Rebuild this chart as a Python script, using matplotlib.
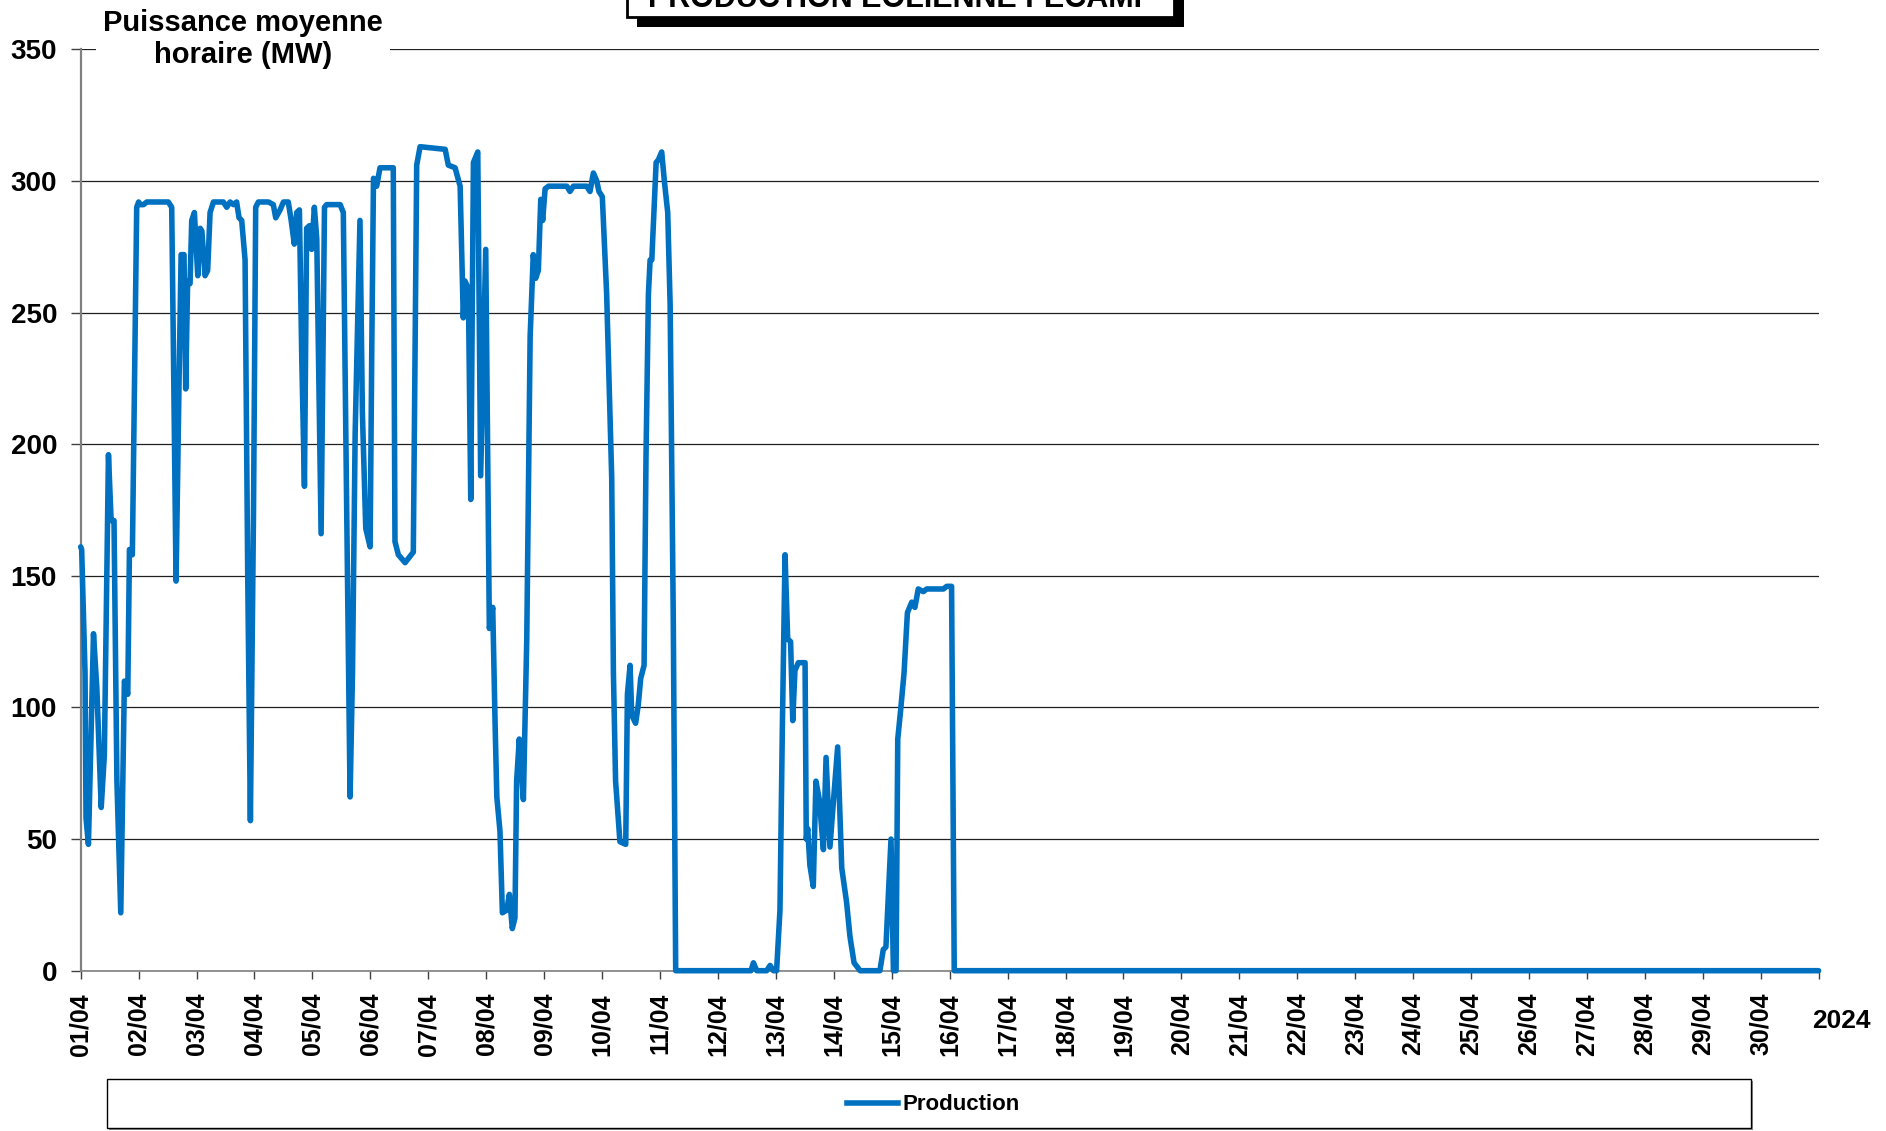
import numpy as np
import matplotlib
matplotlib.use('Agg')
import matplotlib.pyplot as plt
from matplotlib.patches import Rectangle
from matplotlib.lines import Line2D

plt.rcParams['font.family'] = ['Liberation Sans', 'DejaVu Sans']
plt.rcParams['font.weight'] = 'bold'

# hourly production, April 2024 (hours since 01/04 00:00, MW)
hours = [0, 0.4, 1.8, 2.2, 3.2, 5.3, 6.7, 8.5, 9.8, 11.5, 12.6, 13.8, 15.0, 16.6, 18.1, 19.5,
         20.2, 21.4, 23.2, 24.0, 24.6, 26.0, 27.4, 36.3, 37.7, 38.4, 39.5, 40.8, 41.6, 42.8,
         43.5, 44.3, 45.3, 46.0, 47.1, 48.5, 49.5, 50.2, 51.5, 52.6, 53.6, 55.0, 59.1, 60.5,
         61.9, 63.3, 64.6, 65.6, 66.7, 68.1, 69.2, 70.3, 71.6, 72.5, 73.6, 77.8, 79.8, 80.8,
         82.6, 84.0, 86.0, 87.2, 88.5, 89.5, 90.6, 91.6, 92.7, 93.6, 94.8, 95.7, 96.8, 97.8,
         99.6, 101.0, 101.9, 107.5, 108.8, 110.2, 111.6, 112.6, 113.7, 115.7, 116.7, 118.1,
         119.9, 120.6, 121.3, 122.6, 124.0, 129.5, 130.2, 131.6, 134.4, 137.8, 139.2, 140.6,
         151.0, 152.3, 155.1, 157.2, 158.5, 159.2, 160.6, 161.6, 162.7, 164.5, 165.7, 167.8,
         169.3, 170.7, 171.7, 172.4, 173.7, 174.7, 176.5, 177.6, 178.8, 179.9, 180.6, 181.7,
         183.4, 184.8, 186.2, 187.5, 188.5, 189.6, 190.6, 191.4, 192.4, 193.8, 201.4, 202.7,
         204.1, 209.6, 211.0, 212.4, 213.8, 214.7, 216.1, 217.9, 220.0, 220.7, 221.6, 223.4,
         225.8, 226.5, 227.6, 228.3, 229.9, 231.0, 232.0, 233.4, 234.2, 235.2, 235.9, 236.6,
         238.4, 239.3, 240.7, 241.8, 243.2, 244.2, 245.5, 246.5, 277.7, 278.7, 280.1, 284.2,
         285.6, 287.0, 288.3, 289.7, 290.7, 291.8, 292.9, 294.1, 295.0, 295.9, 297.3, 300.1,
         300.6, 301.2, 302.1, 303.5, 304.6, 306.0, 307.7, 308.8, 310.4, 312.1, 313.6, 315.3,
         317.3, 318.7, 320.4, 322.9, 331.1, 332.5, 333.6, 335.7, 336.7, 337.8, 338.5, 339.7,
         341.1, 342.5, 344.3, 345.6, 347.0, 349.1, 350.5, 357.4, 358.8, 360.8, 361.9, 720]
production = [161, 160, 113, 58, 48, 128, 107, 62, 82, 196, 171, 171, 72, 22, 110, 105,
              160, 158, 290, 292, 291, 291, 292, 292, 290, 237, 148, 227, 272, 272,
              221, 262, 261, 285, 288, 264, 282, 281, 264, 266, 288, 292, 292, 290,
              292, 291, 292, 286, 285, 270, 150, 57, 175, 290, 292, 292, 291, 286,
              289, 292, 292, 285, 276, 288, 289, 232, 184, 282, 283, 274, 290, 278,
              166, 290, 291, 291, 288, 175, 66, 113, 204, 285, 212, 168,
              161, 237, 301, 298, 305, 305, 163, 158, 155, 159, 306, 313,
              312, 306, 305, 298, 248, 262, 259, 179, 307, 311, 188, 274,
              130, 138, 93, 66, 53, 22, 23, 29, 16, 20, 72, 88,
              65, 126, 241, 272, 263, 266, 293, 285, 297, 298, 298, 296,
              298, 298, 296, 303, 300, 296, 294, 257, 187, 113, 72, 49,
              48, 105, 116, 97, 94, 101, 111, 116, 195, 257, 270, 270,
              307, 308, 311, 300, 288, 253, 134, 0, 0, 3, 0, 0,
              2, 0, 0, 23, 93, 158, 126, 125, 95, 114, 117, 117,
              50, 54, 40, 32, 72, 65, 46, 81, 47, 67, 85, 39,
              26, 13, 3, 0, 0, 8, 9, 50, 0, 0, 88, 99,
              113, 136, 140, 138, 145, 144, 145, 145, 146, 146, 0, 0]

day_labels = ['01/04', '02/04', '03/04', '04/04', '05/04', '06/04', '07/04', '08/04', '09/04',
              '10/04', '11/04', '12/04', '13/04', '14/04', '15/04', '16/04', '17/04', '18/04',
              '19/04', '20/04', '21/04', '22/04', '23/04', '24/04', '25/04', '26/04', '27/04',
              '28/04', '29/04', '30/04']
y_ticks = [0, 50, 100, 150, 200, 250, 300, 350]

W, H = 1886, 1131
fig = plt.figure(figsize=(W / 100, H / 100), dpi=100)
ax = fig.add_axes([80.7 / W, 1 - 970.7 / H, (1818.6 - 80.7) / W, (970.7 - 49.3) / H])

blue = '#0070C0'
ax.plot(np.array(hours) / 24, production, color=blue, lw=4, solid_joinstyle='round',
        solid_capstyle='round', clip_on=False, zorder=3)

ax.set_xlim(0, 30)
ax.set_ylim(0, 350)
ax.set_yticks(y_ticks)
ax.set_xticks(range(31))
ax.set_xticklabels(day_labels + [''], rotation=90)
ax.yaxis.grid(True, color='#202020', lw=0.9)
ax.set_axisbelow(True)
for s in ['top', 'right']:
    ax.spines[s].set_visible(False)
ax.spines['left'].set_color('#808080')
ax.spines['left'].set_linewidth(1.6)
ax.spines['bottom'].set_color('#808080')
ax.spines['bottom'].set_linewidth(1.2)
ax.tick_params(axis='x', direction='out', length=6, width=1, color='#404040', pad=10, labelsize=18)
ax.tick_params(axis='y', direction='out', length=7, width=1, color='#404040', pad=10, labelsize=20)

# axis title sitting over the top gridline
fig.text(243 / W, 1 - 39 / H, 'Puissance moyenne\nhoraire (MW)', ha='center', va='center',
         fontsize=21, fontweight='bold', linespacing=1.2,
         bbox=dict(facecolor='white', edgecolor='none', pad=5))

# boxed title with drop shadow, running off the top edge
fig.patches.append(Rectangle((637 / W, 1 - 27 / H), (1184 - 637) / W, 0.1,
                             transform=fig.transFigure, facecolor='black', edgecolor='none'))
fig.patches.append(Rectangle((627 / W, 1 - 17 / H), (1174 - 627) / W, 0.1,
                             transform=fig.transFigure, facecolor='white', edgecolor='black', lw=2))
fig.text(900.5 / W, 1 - 7 / H, 'PRODUCTION EOLIENNE FECAMP', ha='center', va='baseline',
         fontsize=22, fontweight='bold')

fig.text(1841 / W, 1 - 1021 / H, '2024', ha='center', va='center', fontsize=19, fontweight='bold')

# legend frame
fig.patches.append(Rectangle((109 / W, 1 - 1130 / H), (1753 - 109) / W, (1130 - 1081) / H,
                             transform=fig.transFigure, facecolor='#909090', edgecolor='none'))
fig.patches.append(Rectangle((107 / W, 1 - 1128 / H), (1751 - 107) / W, (1128 - 1079) / H,
                             transform=fig.transFigure, facecolor='white', edgecolor='black', lw=1))
handle = Line2D([], [], color=blue, lw=4)
fig.legend([handle], ['Production'], loc='center', bbox_to_anchor=(933 / W, 1 - 1105 / H),
           frameon=False, fontsize=16, handlelength=2.3, handletextpad=0.2)

fig.savefig('out.png', dpi=100)
